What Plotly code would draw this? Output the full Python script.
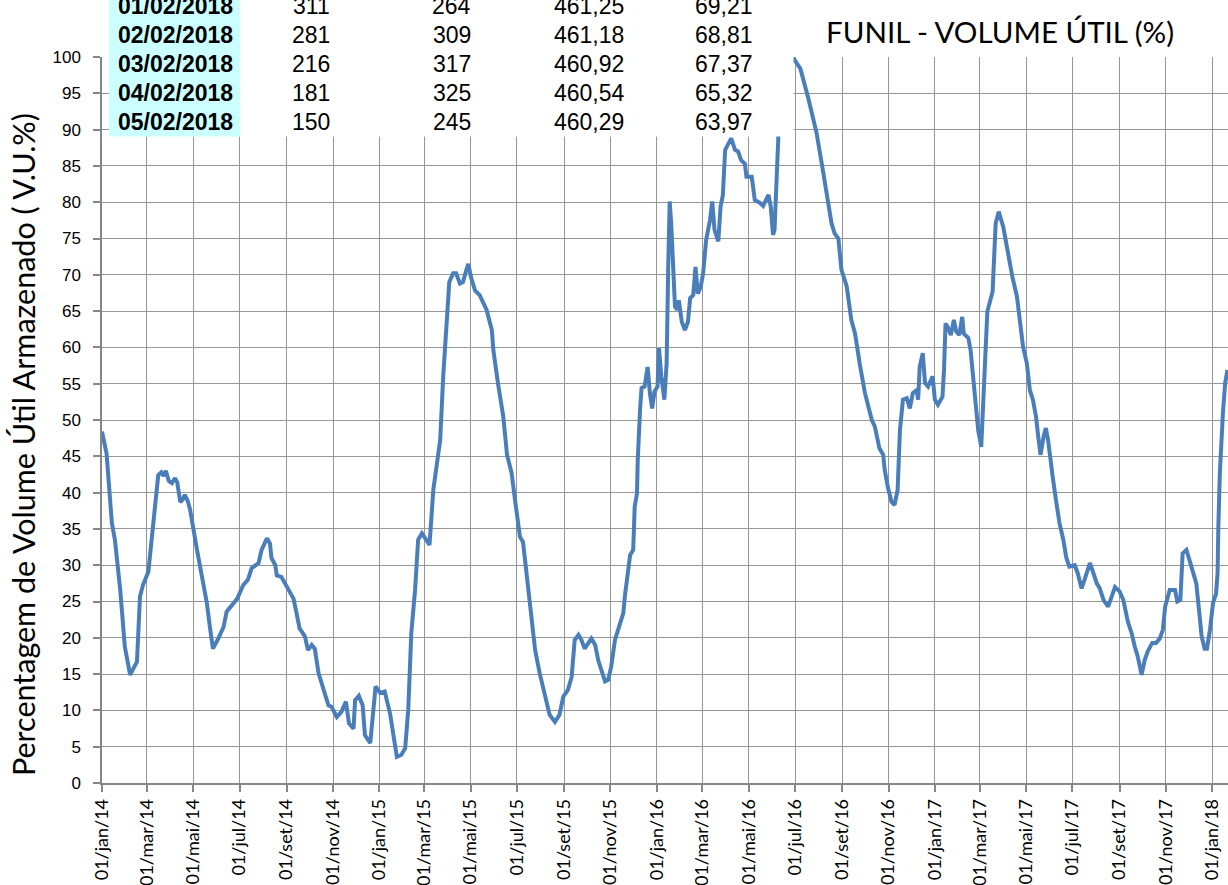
import plotly.graph_objects as go

# ---------------- data ----------------
dates = [
    "2014-01-01", "2014-01-07", "2014-01-14", "2014-01-18", "2014-01-25", "2014-01-29", "2014-01-31",
    "2014-02-07", "2014-02-16", "2014-02-20", "2014-02-24", "2014-03-03", "2014-03-07", "2014-03-12",
    "2014-03-16", "2014-03-20", "2014-03-23", "2014-03-26", "2014-03-30", "2014-04-03", "2014-04-07",
    "2014-04-10", "2014-04-14", "2014-04-17", "2014-04-20", "2014-04-24", "2014-04-27",
    "2014-05-06", "2014-05-10", "2014-05-19", "2014-05-23", "2014-05-27", "2014-06-03", "2014-06-10",
    "2014-06-14", "2014-06-21", "2014-06-28", "2014-07-06", "2014-07-12", "2014-07-17", "2014-07-26",
    "2014-07-30", "2014-08-06", "2014-08-10", "2014-08-12", "2014-08-17", "2014-08-19", "2014-08-25",
    "2014-09-01", "2014-09-10", "2014-09-14", "2014-09-18", "2014-09-25", "2014-09-29", "2014-10-04",
    "2014-10-08", "2014-10-13", "2014-10-19", "2014-10-26", "2014-10-30", "2014-11-06", "2014-11-12",
    "2014-11-18", "2014-11-22", "2014-11-28", "2014-11-30", "2014-12-05", "2014-12-10", "2014-12-13",
    "2014-12-20", "2014-12-24", "2014-12-27",
    "2015-01-02", "2015-01-08", "2015-01-15", "2015-01-19", "2015-01-24", "2015-01-30", "2015-02-04",
    "2015-02-08", "2015-02-12", "2015-02-17", "2015-02-21", "2015-02-26", "2015-03-08", "2015-03-13",
    "2015-03-19", "2015-03-22", "2015-03-26", "2015-03-29", "2015-03-31", "2015-04-03", "2015-04-08",
    "2015-04-12", "2015-04-17", "2015-04-21", "2015-04-25", "2015-04-28", "2015-05-02", "2015-05-07",
    "2015-05-13", "2015-05-22", "2015-05-29", "2015-05-31", "2015-06-06", "2015-06-13", "2015-06-18",
    "2015-06-24", "2015-06-28", "2015-07-03", "2015-07-05", "2015-07-09", "2015-07-14", "2015-07-18",
    "2015-07-22", "2015-07-25", "2015-07-31", "2015-08-07", "2015-08-13", "2015-08-20", "2015-08-26",
    "2015-08-31", "2015-09-06", "2015-09-11", "2015-09-15", "2015-09-20", "2015-09-24", "2015-09-28",
    "2015-10-03", "2015-10-07", "2015-10-12", "2015-10-16", "2015-10-20", "2015-10-25", "2015-10-29",
    "2015-11-02", "2015-11-07", "2015-11-13", "2015-11-18", "2015-11-20", "2015-11-24", "2015-11-27",
    "2015-12-01", "2015-12-03", "2015-12-06", "2015-12-07", "2015-12-10", "2015-12-12", "2015-12-16",
    "2015-12-20", "2015-12-23", "2015-12-26", "2015-12-29",
    "2016-01-02", "2016-01-04", "2016-01-07", "2016-01-11", "2016-01-14", "2016-01-16", "2016-01-18",
    "2016-01-20", "2016-01-23", "2016-01-25", "2016-01-28", "2016-01-30", "2016-02-03", "2016-02-07",
    "2016-02-11", "2016-02-14", "2016-02-18", "2016-02-21", "2016-02-24", "2016-02-28", "2016-03-02",
    "2016-03-06", "2016-03-11", "2016-03-14", "2016-03-17", "2016-03-22", "2016-03-25", "2016-03-28",
    "2016-03-31", "2016-04-04", "2016-04-08", "2016-04-13", "2016-04-17", "2016-04-21", "2016-04-26",
    "2016-04-28", "2016-05-05", "2016-05-09", "2016-05-16", "2016-05-20", "2016-05-24", "2016-05-27",
    "2016-05-30", "2016-06-02", "2016-06-04", "2016-06-07", "2016-06-09", "2016-06-13", "2016-06-20",
    "2016-06-25", "2016-06-29", "2016-07-08", "2016-07-18", "2016-07-29", "2016-08-05", "2016-08-09",
    "2016-08-13", "2016-08-18", "2016-08-22", "2016-08-27", "2016-08-31", "2016-09-07", "2016-09-13",
    "2016-09-18", "2016-09-24", "2016-10-01", "2016-10-10", "2016-10-14", "2016-10-20", "2016-10-25",
    "2016-10-27", "2016-10-31", "2016-11-05", "2016-11-09", "2016-11-13", "2016-11-15", "2016-11-16",
    "2016-11-20", "2016-11-25", "2016-11-29", "2016-12-03", "2016-12-08", "2016-12-10", "2016-12-12",
    "2016-12-16", "2016-12-19", "2016-12-23", "2016-12-29",
    "2017-01-01", "2017-01-05", "2017-01-11", "2017-01-13", "2017-01-15", "2017-01-18", "2017-01-22",
    "2017-01-26", "2017-01-29", "2017-02-02", "2017-02-06", "2017-02-08", "2017-02-14", "2017-02-17",
    "2017-02-20", "2017-02-24", "2017-02-27", "2017-03-03", "2017-03-06", "2017-03-08", "2017-03-11",
    "2017-03-14", "2017-03-18", "2017-03-19", "2017-03-22", "2017-03-26", "2017-04-01", "2017-04-05",
    "2017-04-09", "2017-04-13", "2017-04-19", "2017-04-23", "2017-04-27", "2017-05-02", "2017-05-06",
    "2017-05-10", "2017-05-14", "2017-05-17", "2017-05-20", "2017-05-24", "2017-05-27", "2017-05-30",
    "2017-06-03", "2017-06-05", "2017-06-10", "2017-06-14", "2017-06-19", "2017-06-23", "2017-06-27",
    "2017-07-04", "2017-07-08", "2017-07-13", "2017-07-17", "2017-07-24", "2017-07-28", "2017-08-02",
    "2017-08-06", "2017-08-11", "2017-08-17", "2017-08-21", "2017-08-26", "2017-09-01", "2017-09-06",
    "2017-09-12", "2017-09-17", "2017-09-21", "2017-09-25", "2017-09-30", "2017-10-04", "2017-10-08",
    "2017-10-14", "2017-10-19", "2017-10-24", "2017-10-28", "2017-10-31", "2017-11-06", "2017-11-13",
    "2017-11-16", "2017-11-20", "2017-11-23", "2017-11-28", "2017-12-02", "2017-12-07", "2017-12-11",
    "2017-12-15", "2017-12-18", "2017-12-22", "2017-12-25", "2017-12-29",
    "2018-01-02", "2018-01-06", "2018-01-08", "2018-01-09", "2018-01-11", "2018-01-15", "2018-01-18",
    "2018-01-21",
]
vu_pct = [
    48.4, 45.4, 35.8, 33.5, 26.6, 21.5, 18.8,
    14.9, 16.7, 25.7, 27.3, 29.1, 33.5, 39.0,
    42.4, 42.8, 42.3, 43.0, 41.6, 41.3, 42.0,
    41.4, 38.7, 39.0, 39.7, 38.8, 37.6,
    32.1, 30.0, 24.8, 21.5, 18.5, 19.9, 21.5,
    23.6, 24.5, 25.4, 27.3, 28.0, 29.6, 30.3,
    32.1, 33.7, 33.0, 31.0, 30.0, 28.6, 28.4,
    27.0, 25.4, 23.4, 21.3, 20.2, 18.3, 19.0,
    18.5, 15.1, 13.0, 10.7, 10.5, 9.1, 9.8,
    11.2, 8.2, 7.5, 11.4, 12.0, 10.7, 6.6,
    5.5, 9.6, 13.3,
    12.4, 12.6, 9.6, 7.1, 3.6, 3.9, 4.8,
    10.1, 20.6, 26.6, 33.5, 34.4, 32.8, 40.4,
    44.5, 47.2, 56.0, 61.0, 66.0, 69.0, 70.2,
    70.2, 68.8, 69.0, 70.5, 71.5, 69.5, 67.8,
    67.2, 65.2, 62.4, 59.6, 55.1, 50.5, 45.2,
    42.7, 39.4, 35.8, 33.9, 33.2, 28.9, 25.2,
    21.5, 18.3, 15.1, 11.9, 9.4, 8.4, 9.4,
    11.9, 12.8, 14.6, 19.7, 20.4, 19.7, 18.5,
    19.2, 19.9, 19.0, 16.9, 15.6, 14.0, 14.2,
    16.0, 19.7, 22.0, 23.4, 25.7, 28.9, 31.4,
    32.1, 38.1, 39.9, 44.5, 51.4, 54.4, 54.6,
    57.3, 53.7, 51.6, 53.9,
    54.6, 59.9, 56.0, 52.8, 57.8, 70.7, 80.1,
    77.1, 70.7, 65.6, 65.2, 66.5, 63.5, 62.4,
    63.5, 66.8, 67.2, 71.1, 67.4, 68.4, 70.2,
    74.8, 77.5, 80.1, 76.2, 74.6, 79.4, 81.0,
    87.2, 88.1, 88.8, 87.2, 87.0, 85.8, 85.3,
    83.5, 83.5, 80.3, 79.9, 79.5, 80.5, 81.0,
    79.4, 75.5, 76.2, 84.0, 89.0, 94.0, 97.5,
    99.5, 99.8, 98.4, 94.5, 89.7, 85.4, 82.6,
    79.8, 77.1, 75.7, 75.0, 70.7, 68.4, 63.8,
    61.9, 57.8, 53.7, 50.0, 49.1, 46.1, 45.2,
    43.1, 40.8, 38.7, 38.3, 40.4, 45.9, 48.6,
    52.8, 53.0, 51.6, 53.7, 54.1, 52.8, 57.3,
    59.2, 55.1, 54.6, 56.0,
    52.8, 52.1, 53.2, 56.9, 63.3, 62.8, 61.7,
    63.8, 62.2, 61.7, 64.2, 61.9, 61.3, 59.6,
    56.4, 51.4, 48.6, 46.3, 53.2, 60.6, 64.9,
    66.1, 67.7, 70.2, 77.1, 78.7, 76.6, 74.3,
    71.6, 69.7, 67.0, 63.3, 60.1, 57.8, 54.1,
    52.8, 50.5, 47.7, 45.2, 47.7, 48.9, 47.2,
    43.6, 42.2, 38.5, 35.8, 33.5, 31.0, 29.8,
    30.0, 28.9, 26.8, 28.0, 30.3, 29.1, 27.5,
    26.8, 25.2, 24.3, 25.7, 27.0, 26.4, 25.2,
    22.2, 20.6, 18.8, 17.4, 14.9, 16.9, 18.1,
    19.3, 19.3, 19.9, 21.1, 24.3, 26.6, 26.6,
    25.0, 25.2, 31.6, 32.1, 30.7, 28.9, 27.5,
    23.4, 20.2, 18.5, 18.5, 21.1,
    24.8, 26.1, 28.9, 35.3, 42.7, 50.9, 55.1,
    56.9,
]

tick_dates = [
    "2014-01-01", "2014-03-01", "2014-05-01", "2014-07-01", "2014-09-01", "2014-11-01",
    "2015-01-01", "2015-03-01", "2015-05-01", "2015-07-01", "2015-09-01", "2015-11-01",
    "2016-01-01", "2016-03-01", "2016-05-01", "2016-07-01", "2016-09-01", "2016-11-01",
    "2017-01-01", "2017-03-01", "2017-05-01", "2017-07-01", "2017-09-01", "2017-11-01",
    "2018-01-01",
]
tick_labels = [
    "01/jan/14", "01/mar/14", "01/mai/14", "01/jul/14", "01/set/14", "01/nov/14",
    "01/jan/15", "01/mar/15", "01/mai/15", "01/jul/15", "01/set/15", "01/nov/15",
    "01/jan/16", "01/mar/16", "01/mai/16", "01/jul/16", "01/set/16", "01/nov/16",
    "01/jan/17", "01/mar/17", "01/mai/17", "01/jul/17", "01/set/17", "01/nov/17",
    "01/jan/18",
]

# table overlay (top-left)
table_dates = ["01/02/2018", "02/02/2018", "03/02/2018", "04/02/2018", "05/02/2018"]
table_col2 = ["311", "281", "216", "181", "150"]
table_col3 = ["264", "309", "317", "325", "245"]
table_col4 = ["461,25", "461,18", "460,92", "460,54", "460,29"]
table_col5 = ["69,21", "68,81", "67,37", "65,32", "63,97"]

title_text = "FUNIL - VOLUME ÚTIL (%)"
ytitle_text = "Percentagem de Volume Útil Armazenado ( V.U.%)"

# ---------------- layout geometry ----------------
W, H = 1228, 885
L, R, T, B = 102, 0, 57, 102
PW, PH = W - L - R, H - T - B


def px(x):
    return (x - L) / PW


def py(y):
    return (H - B - y) / PH


CAL = "Lato, Carlito, Calibri, sans-serif"
ARIAL = "Liberation Sans, Arial, sans-serif"
GRID = "#969696"
AXIS = "#868686"

fig = go.Figure()
fig.add_trace(go.Scatter(
    x=dates, y=vu_pct, mode="lines",
    line=dict(color="#4a7ebb", width=4),
    hoverinfo="x+y", showlegend=False,
))

shapes = [
    dict(type="rect", xref="paper", yref="paper", x0=px(109), x1=px(793.5),
         y0=py(136.5), y1=py(-10), fillcolor="white", line=dict(width=0), layer="above"),
    dict(type="rect", xref="paper", yref="paper", x0=px(109), x1=px(240),
         y0=py(136.5), y1=py(-10), fillcolor="#ccffff", line=dict(width=0), layer="above"),
]

annotations = []
col_centers = [175.8, 311, 451.5, 589.3, 723.8]
cols = [table_dates, table_col2, table_col3, table_col4, table_col5]
for ci, col in enumerate(cols):
    for ri, txt in enumerate(col):
        annotations.append(dict(
            x=px(col_centers[ci]), y=py(6 + 29 * ri), xref="paper", yref="paper",
            text=("<b>%s</b>" % txt) if ci == 0 else txt, showarrow=False,
            xanchor="center", yanchor="middle",
            font=dict(family=ARIAL, size=23, color="black"),
        ))

annotations.append(dict(
    x=px(1000), y=py(32), xref="paper", yref="paper", text=title_text,
    showarrow=False, xanchor="center", yanchor="middle",
    font=dict(family=CAL, size=29.5, color="black"),
))
annotations.append(dict(
    x=px(23), y=py(445), xref="paper", yref="paper", text=ytitle_text,
    showarrow=False, xanchor="center", yanchor="middle", textangle=-90,
    font=dict(family=CAL, size=30.5, color="black"),
))

fig.update_layout(
    width=W, height=H,
    margin=dict(l=L, r=R, t=T, b=B, autoexpand=False),
    paper_bgcolor="white", plot_bgcolor="white",
    showlegend=False,
    shapes=shapes, annotations=annotations,
    xaxis=dict(
        type="date", range=["2014-01-01", "2018-01-21 17:00"],
        tickmode="array", tickvals=tick_dates, ticktext=tick_labels,
        tickangle=-90, ticks="outside", ticklen=7, tickcolor=AXIS, tickwidth=1.5,
        tickfont=dict(family=CAL, size=18, color="black"),
        showgrid=True, gridcolor=GRID, gridwidth=1,
        showline=True, linecolor=AXIS, linewidth=1.5, zeroline=False,
        fixedrange=True,
    ),
    yaxis=dict(
        range=[0, 100], tick0=0, dtick=5, tickmode="linear",
        ticks="outside", ticklen=7, tickcolor=AXIS, tickwidth=1.5,
        tickfont=dict(family=ARIAL, size=17, color="black"),
        ticklabelstandoff=9,
        showgrid=True, gridcolor=GRID, gridwidth=1,
        showline=True, linecolor=AXIS, linewidth=1.5, zeroline=False,
        fixedrange=True,
    ),
)

# remove the default 8px page margin so the figure fills the window exactly
fig.write_html(
    "out.html",
    config={"displayModeBar": False},
    post_script="document.body.style.margin='0px';document.body.style.overflow='hidden';",
)
